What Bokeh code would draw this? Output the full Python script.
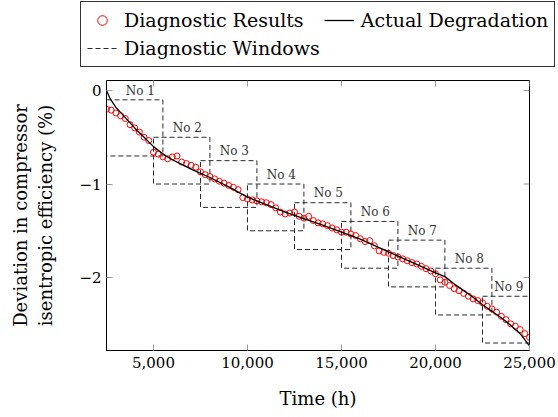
import numpy as np
from bokeh.plotting import figure
from bokeh.models import (Range1d, FixedTicker, Legend, LegendItem,
                          NumeralTickFormatter, CustomJSTickFormatter, ColumnDataSource)
from bokeh.core.properties import value
from bokeh.embed import file_html
from bokeh.resources import INLINE

# ---------------- data ----------------
diag_hours = list(range(2500, 25001, 250))
diag_values = [
    -0.20, -0.21, -0.24, -0.27, -0.30, -0.365, -0.40, -0.445, -0.50, -0.535,
    -0.66, -0.68, -0.71, -0.73, -0.71, -0.70, -0.765, -0.78, -0.80, -0.82,
    -0.87, -0.90, -0.92, -0.945, -0.97, -0.99, -1.015, -1.035, -1.06, -1.145,
    -1.16, -1.17, -1.18, -1.19, -1.20, -1.22, -1.255, -1.30, -1.32, -1.31,
    -1.30, -1.345, -1.365, -1.345, -1.39, -1.415, -1.425, -1.445, -1.47, -1.49,
    -1.515, -1.515, -1.535, -1.55, -1.585, -1.615, -1.605, -1.66, -1.715, -1.73,
    -1.74, -1.765, -1.78, -1.80, -1.82, -1.84, -1.855, -1.88, -1.905, -1.93,
    -1.96, -2.025, -2.05, -2.085, -2.12, -2.14, -2.17, -2.20, -2.228, -2.246,
    -2.27, -2.307, -2.335, -2.37, -2.414, -2.45, -2.495, -2.52, -2.556, -2.60,
    -2.64,
]

actual_hours = [2500, 2700, 3000, 3500, 4000, 4500, 5000, 5500, 6000, 6500, 7000,
                8000, 9000, 10000, 11000, 12000, 13000, 14000, 15000, 16000,
                17000, 18000, 19000, 20000, 20500, 21000, 21500, 22000, 22500,
                23000, 23500, 24000, 24500, 25000]
actual_values = [0.0, -0.09, -0.18, -0.29, -0.40, -0.50, -0.60, -0.68, -0.74, -0.79, -0.84,
                 -0.93, -1.03, -1.14, -1.22, -1.30, -1.37, -1.44, -1.515, -1.59,
                 -1.68, -1.77, -1.86, -1.95, -1.99, -2.07, -2.14, -2.21, -2.29,
                 -2.36, -2.43, -2.51, -2.60, -2.73]

win_names = ["No 1", "No 2", "No 3", "No 4", "No 5", "No 6", "No 7", "No 8", "No 9"]
win_start = [2500, 5000, 7500, 10000, 12500, 15000, 17500, 20000, 22500]
win_end = [5500, 8000, 10500, 13000, 15500, 18000, 20500, 23000, 25500]
win_low = [-0.7, -1.0, -1.25, -1.5, -1.7, -1.9, -2.1, -2.4, -2.7]
win_high = [-0.1, -0.5, -0.75, -1.0, -1.2, -1.4, -1.6, -1.9, -2.2]

legend_labels = ["Diagnostic Results", "Actual Degradation", "Diagnostic Windows"]

x_ticks = [5000, 10000, 15000, 20000, 25000]
y_ticks = [-2, -1, 0]
x_min, x_max = 2500, 25000
y_min, y_max = -2.78, 0.107

FONT = "DejaVu Serif"
RED = "red"
WIN_COLOR = "#2a2a2a"
WIN_DASH = "5 3"
TICK_COLOR = "#999999"

W = 558
LEG_H = 72
H = 417 - LEG_H
B_LEFT, B_RIGHT, B_TOP, B_BOTTOM = 106, 29, 8, 67
TICK_PX = 6

# ---------------- main figure ----------------
p = figure(width=W, height=H, output_backend="svg", toolbar_location=None,
           x_range=Range1d(x_min, x_max), y_range=Range1d(y_min, y_max),
           min_border_left=B_LEFT, min_border_right=B_RIGHT, min_border_top=B_TOP,
           min_border_bottom=B_BOTTOM)
p.grid.visible = False
p.outline_line_color = "black"
p.outline_line_width = 1
p.outline_line_alpha = 1
p.background_fill_color = "white"
p.border_fill_color = "white"

# inward ticks on the top and right edges (pgfplots style)
dx_tick = (x_max - x_min) / (W - B_LEFT - B_RIGHT) * TICK_PX
dy_tick = (y_max - y_min) / (H - B_TOP - B_BOTTOM) * TICK_PX
p.segment(x0=x_ticks, x1=x_ticks, y0=[y_max] * len(x_ticks),
          y1=[y_max - dy_tick] * len(x_ticks), line_color=TICK_COLOR, line_width=1)
p.segment(x0=[x_max] * len(y_ticks), x1=[x_max - dx_tick] * len(y_ticks),
          y0=y_ticks, y1=y_ticks, line_color=TICK_COLOR, line_width=1)

# diagnostic windows
win_src = ColumnDataSource(dict(
    left=win_start, right=win_end, bottom=win_low, top=win_high, name=win_names,
    lx=[min((s + e) / 2 + 300, x_max - 1100) for s, e in zip(win_start, win_end)],
    ly=[h + 0.1 for h in win_high],
))
p.quad(left="left", right="right", bottom="bottom", top="top", source=win_src,
       fill_alpha=0, line_color=WIN_COLOR, line_width=1, line_dash=WIN_DASH)
p.text(x="lx", y="ly", text="name", source=win_src, text_align="center",
       text_baseline="middle", text_font=value(FONT), text_font_size="12px",
       text_color="#333333")

p.scatter(diag_hours, diag_values, marker="circle", size=6,
          fill_color=None, line_color=RED, line_width=1)
p.line(actual_hours, actual_values, line_color="black", line_width=1.3)

def style_axis(ax):
    ax.axis_line_color = "black"
    ax.major_tick_in = TICK_PX
    ax.major_tick_out = 0
    ax.major_tick_line_color = TICK_COLOR
    ax.minor_tick_line_color = None
    ax.major_label_text_font = FONT
    ax.major_label_text_font_size = "15px"
    ax.major_label_text_color = "black"
    ax.axis_label_text_font = FONT
    ax.axis_label_text_font_size = "18px"
    ax.axis_label_text_font_style = "normal"
    ax.axis_label_text_color = "black"

xa = p.xaxis[0]
ya = p.yaxis[0]
style_axis(xa)
style_axis(ya)
xa.ticker = FixedTicker(ticks=x_ticks)
ya.ticker = FixedTicker(ticks=y_ticks)
xa.formatter = NumeralTickFormatter(format="0,0")
ya.formatter = CustomJSTickFormatter(
    code="return tick < 0 ? '\u2212' + Math.abs(tick) : tick.toString();")
xa.axis_label = "Time (h)"
ya.axis_label = "Deviation in compressor\nisentropic efficiency (%)"
xa.major_label_standoff = 6
ya.major_label_standoff = 5
xa.axis_label_standoff = 17
ya.axis_label_standoff = 20

# ---------------- legend strip (separate root, no frame alignment) ----------------
lf = figure(width=W, height=LEG_H, output_backend="svg", toolbar_location=None,
            x_range=Range1d(0, 1), y_range=Range1d(0, 1),
            x_axis_type=None, y_axis_type=None,
            min_border_left=0, min_border_right=0, min_border_top=0, min_border_bottom=0)
lf.grid.visible = False
lf.outline_line_color = None
lf.background_fill_color = "white"
lf.border_fill_color = "white"
nan = [float("nan")]
l1 = lf.scatter(x=nan, y=nan, marker="circle", size=6, fill_color=None,
                line_color=RED, line_width=1)
l2 = lf.line(x=nan * 2, y=nan * 2, line_color="black", line_width=1.3)
l3 = lf.line(x=nan * 2, y=nan * 2, line_color=WIN_COLOR, line_width=1, line_dash=WIN_DASH)

legend = Legend(items=[LegendItem(label=t, renderers=[r])
                       for t, r in zip(legend_labels, [l1, l2, l3])],
                location=(80, 5), orientation="horizontal", ncols=2,
                glyph_width=30, glyph_height=24, label_standoff=7, label_height=24,
                padding=6, spacing=4, margin=0,
                label_text_font=FONT, label_text_font_size="19px",
                label_text_color="black",
                border_line_color="#333333", border_line_width=1, border_line_alpha=1,
                background_fill_color="white", background_fill_alpha=1)
lf.add_layout(legend, "center")

open("out.html", "w").write(file_html([lf, p], INLINE))
